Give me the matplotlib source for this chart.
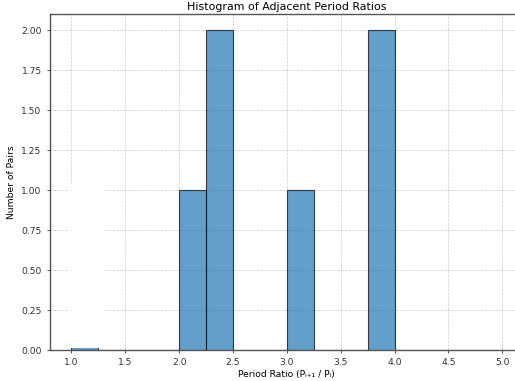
import numpy as np
import matplotlib
matplotlib.use("Agg")
import matplotlib.pyplot as plt
from matplotlib.patches import Rectangle

# period ratio bins (width 0.25) and how many adjacent pairs fall in each
bin_edges = np.arange(1.0, 5.01, 0.25)
pair_counts = [1, 0, 0, 0, 1, 2, 0, 0, 1, 0, 0, 2, 0, 0, 0, 0]

x_ticks = [1.0, 1.5, 2.0, 2.5, 3.0, 3.5, 4.0, 4.5, 5.0]
y_ticks = [0.0, 0.25, 0.5, 0.75, 1.0, 1.25, 1.5, 1.75, 2.0]

fig = plt.figure(figsize=(5.15, 3.81), dpi=100)
ax = fig.add_axes([0.097, 0.081, 0.92, 0.881])

ax.hist(bin_edges[:-1], bins=bin_edges, weights=pair_counts,
        color="#1f77b4", alpha=0.7, edgecolor="black", linewidth=0.8, zorder=2)

# masked-out first bin
ax.add_patch(Rectangle((0.98, 0.015), 0.32, 1.025, facecolor="white",
                       edgecolor="none", zorder=3))

ax.set_xlim(0.8, 5.2)
ax.set_ylim(0, 2.1)
ax.set_xticks(x_ticks)
ax.set_yticks(y_ticks)
ax.set_xticklabels([f"{t:.1f}" for t in x_ticks])
ax.set_yticklabels([f"{t:.2f}" for t in y_ticks])
ax.tick_params(labelsize=6.6, colors="#333333", length=2.5, width=0.6)
for s in ax.spines.values():
    s.set_color("#555555")
    s.set_linewidth(1.0)

ax.grid(True, linestyle="--", color="#bbbbbb", linewidth=0.5, alpha=0.8, zorder=0)
ax.set_axisbelow(True)

ax.set_title("Histogram of Adjacent Period Ratios", fontsize=7.9, pad=3)
ax.set_xlabel("Period Ratio (Pᵢ₊₁ / Pᵢ)", fontsize=6.6, labelpad=2)
ax.set_ylabel("Number of Pairs", fontsize=6.6, labelpad=4)

fig.savefig("out.png", dpi=100)
